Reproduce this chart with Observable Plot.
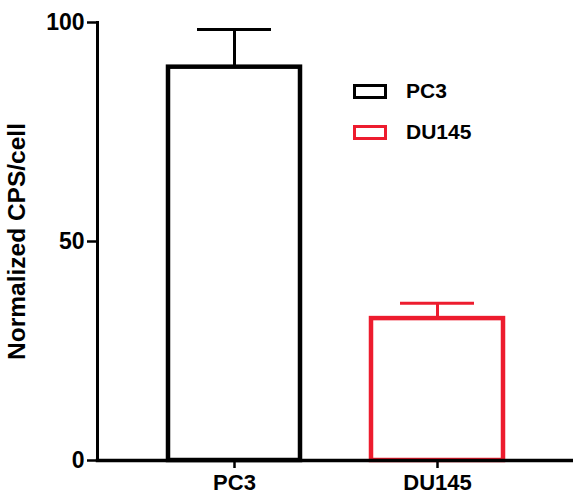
<!DOCTYPE html>
<html>
<head>
<meta charset="utf-8">
<script src="https://cdn.jsdelivr.net/npm/d3@7"></script>
<script src="https://cdn.jsdelivr.net/npm/@observablehq/plot@0.6"></script>
<style>
  html, body { margin: 0; padding: 0; background: #fff; }
  #wrap { position: relative; width: 573px; height: 495px; font-family: "Liberation Sans", Arial, sans-serif; font-weight: bold; }
  .legend { position: absolute; left: 353px; font-size: 21px; color: #000; }
  .legend .item { position: absolute; display: flex; align-items: center; white-space: nowrap; }
  .legend .sw { width: 28px; height: 9px; border: 3.5px solid; background: #fff; margin-right: 19px; }
</style>
</head>
<body>
<div id="wrap"></div>
<script>
const categories = ["PC3", "DU145"];
const means = [89.8, 32.4];
const errors = [8.6, 3.5];
const colors = ["#000000", "#ed1c2e"];
const yTicks = [0, 50, 100];
const yLabel = "Normalized CPS/cell";

const data = categories.map((c, i) => ({cell: c, mean: means[i], top: means[i] + errors[i], color: colors[i]}));

const chart = Plot.plot({
  width: 573,
  height: 495,
  marginLeft: 97,
  marginRight: 0,
  marginTop: 22,
  marginBottom: 35,
  style: {fontFamily: '"Liberation Sans", Arial, sans-serif', fontWeight: "bold", fontSize: "21px", color: "#000", background: "#fff"},
  x: {domain: categories, paddingInner: 0.35, paddingOuter: 0.342, label: null},
  y: {domain: [0, 100], label: null},
  marks: [
    Plot.ruleX(data, {x: "cell", y1: "mean", y2: "top", stroke: "color", strokeWidth: 3}),
    Plot.tickY(data, {x: "cell", y: "top", stroke: "color", strokeWidth: 3, insetLeft: 29, insetRight: 29}),
    Plot.barY(data, {x: "cell", y: "mean", fill: "#fff", stroke: "color", strokeWidth: 4.5}),
    Plot.frame({anchor: "left", strokeWidth: 3}),
    Plot.frame({anchor: "bottom", strokeWidth: 3.5}),
    Plot.axisY({ticks: yTicks, tickSize: 10, tickPadding: 3, strokeWidth: 2.5, fontSize: 23, label: null}),
    Plot.axisX({tickSize: 8, tickPadding: 6, strokeWidth: 2.5, fontSize: 22, label: null}),
    Plot.text([yLabel], {frameAnchor: "left", dx: -80, rotate: -90, fontSize: 24.5, fontWeight: "bold", textAnchor: "middle", dy: 0})
  ]
});

const wrap = document.getElementById("wrap");
wrap.appendChild(chart);

const legend = document.createElement("div");
legend.className = "legend";
legend.style.top = "0px";
const tops = [79, 120];
categories.forEach((c, i) => {
  const item = document.createElement("div");
  item.className = "item";
  item.style.top = tops[i] + "px";
  const sw = document.createElement("span");
  sw.className = "sw";
  sw.style.borderColor = colors[i];
  const t = document.createElement("span");
  t.textContent = c;
  item.appendChild(sw);
  item.appendChild(t);
  legend.appendChild(item);
});
wrap.appendChild(legend);
</script>
</body>
</html>
